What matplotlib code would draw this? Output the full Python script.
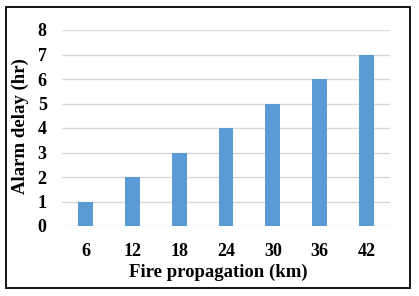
import matplotlib
matplotlib.use("Agg")
import matplotlib.pyplot as plt
from matplotlib.patches import Rectangle

categories = ["6", "12", "18", "24", "30", "36", "42"]
delays = [1, 2, 3, 4, 5, 6, 7]
yticks = [0, 1, 2, 3, 4, 5, 6, 7, 8]

plt.rcParams['font.family'] = ['Liberation Serif', 'DejaVu Serif']
plt.rcParams['font.weight'] = 'bold'

W, H = 419, 296
fig = plt.figure(figsize=(W/100, H/100), dpi=100)
ax = fig.add_axes([62/W, 1-226/H, (390-62)/W, (226-30)/H])

x = list(range(len(categories)))
ax.bar(x, delays, width=0.32, color='#5b9bd5', zorder=3)
ax.set_xlim(-0.5, len(categories)-0.5)
ax.set_ylim(0, 8)
ax.set_yticks(yticks)
ax.set_xticks(x)
ax.set_xticklabels(categories)
ax.yaxis.grid(True, color='#d9d9d9', linewidth=1, zorder=0)
for s in ax.spines.values():
    s.set_visible(False)
ax.tick_params(axis='both', length=0, labelsize=13)
ax.tick_params(axis='x', pad=12)
ax.tick_params(axis='y', pad=11)
ax.set_xlabel('Fire propagation (km)', fontsize=13.5, fontweight='bold')
ax.xaxis.set_label_coords((218-62)/(390-62), -(264-226)/(226-30))
ax.set_ylabel('Alarm delay (hr)', fontsize=13.5, fontweight='bold')
ax.yaxis.set_label_coords(-(62-29)/(390-62), 0.51)

fig.patches.append(Rectangle((6/W, 1-288/H), (410-6)/W, (288-7)/H, transform=fig.transFigure,
                             fill=False, edgecolor='black', linewidth=1.3))
fig.savefig('out.png', dpi=100)
